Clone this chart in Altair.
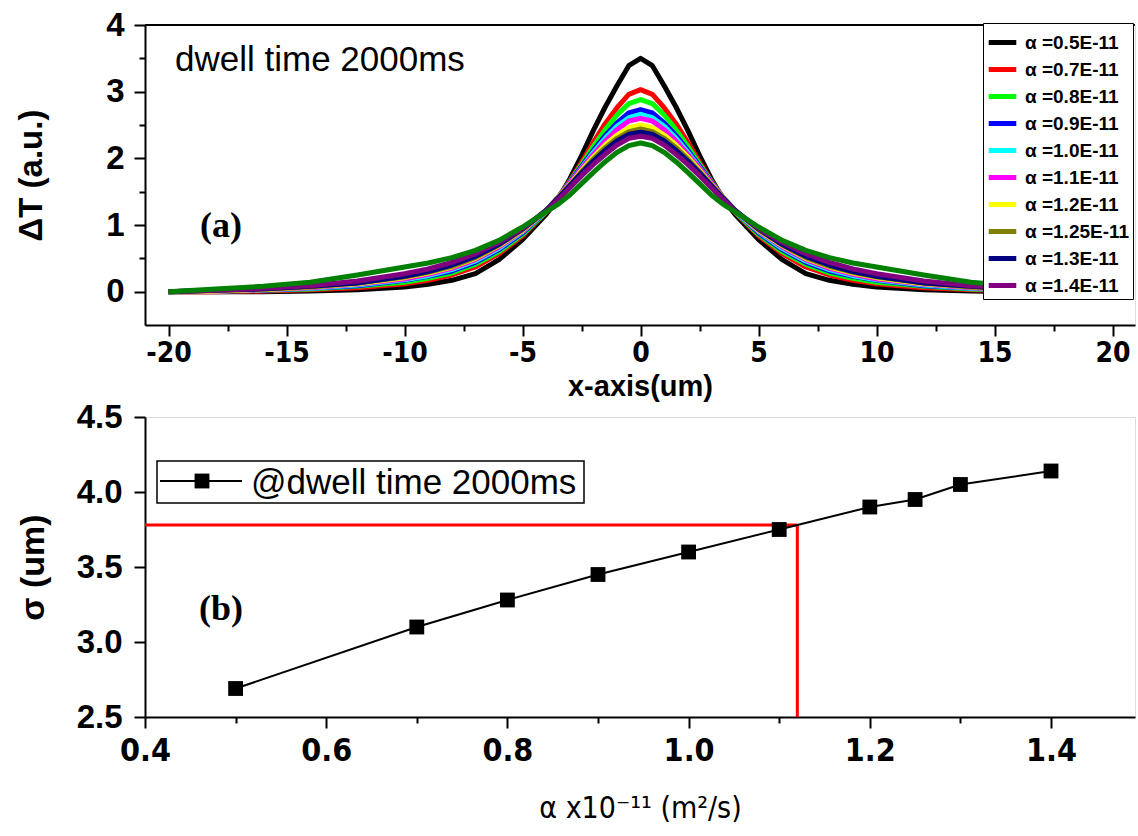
import altair as alt
import pandas as pd

# ---------------- panel (a) data ----------------
x_um = [-20, -18, -16, -14, -12, -10, -9, -8, -7, -6, -5, -4, -3.5, -3, -2.5, -2, -1.5, -1, -0.5, 0,
        0.5, 1, 1.5, 2, 2.5, 3, 3.5, 4, 5, 6, 7, 8, 9, 10, 12, 14, 16, 18, 20]

alpha_labels = ["α =0.5E-11", "α =0.7E-11", "α =0.8E-11", "α =0.9E-11", "α =1.0E-11",
                "α =1.1E-11", "α =1.2E-11", "α =1.25E-11", "α =1.3E-11", "α =1.4E-11", "α =1.5E-11"]
line_colors = ["#000000", "#FF0000", "#00FF00", "#0000FF", "#00FFFF",
               "#FF00FF", "#FFFF00", "#808000", "#000080", "#800080", "#008000"]

dT_05 = [0.00, 0.00, 0.00, 0.01, 0.03, 0.07, 0.11, 0.17, 0.27, 0.48, 0.78, 1.16, 1.39, 1.69, 2.04, 2.42, 2.77, 3.09, 3.39, 3.50,
         3.39, 3.09, 2.77, 2.42, 2.04, 1.69, 1.39, 1.16, 0.78, 0.48, 0.27, 0.17, 0.11, 0.07, 0.03, 0.01, 0.00, 0.00, 0.00]
dT_07 = [0.00, 0.00, 0.01, 0.03, 0.06, 0.12, 0.17, 0.25, 0.37, 0.57, 0.84, 1.19, 1.41, 1.66, 1.94, 2.24, 2.52, 2.76, 2.96, 3.03,
         2.96, 2.76, 2.52, 2.24, 1.94, 1.66, 1.41, 1.19, 0.84, 0.57, 0.37, 0.25, 0.17, 0.12, 0.06, 0.03, 0.01, 0.00, 0.00]
dT_08 = [0.00, 0.01, 0.02, 0.04, 0.08, 0.14, 0.20, 0.28, 0.41, 0.60, 0.86, 1.20, 1.41, 1.65, 1.91, 2.18, 2.43, 2.65, 2.82, 2.88,
         2.82, 2.65, 2.43, 2.18, 1.91, 1.65, 1.41, 1.20, 0.86, 0.60, 0.41, 0.28, 0.20, 0.14, 0.08, 0.04, 0.02, 0.01, 0.00]
dT_09 = [0.00, 0.01, 0.02, 0.05, 0.09, 0.17, 0.23, 0.31, 0.44, 0.63, 0.88, 1.21, 1.41, 1.64, 1.88, 2.12, 2.34, 2.53, 2.68, 2.73,
         2.68, 2.53, 2.34, 2.12, 1.88, 1.64, 1.41, 1.21, 0.88, 0.63, 0.44, 0.31, 0.23, 0.17, 0.09, 0.05, 0.02, 0.01, 0.00]
dT_10 = [0.00, 0.01, 0.03, 0.05, 0.10, 0.18, 0.24, 0.33, 0.46, 0.65, 0.90, 1.21, 1.41, 1.63, 1.86, 2.09, 2.30, 2.48, 2.61, 2.66,
         2.61, 2.48, 2.30, 2.09, 1.86, 1.63, 1.41, 1.21, 0.90, 0.65, 0.46, 0.33, 0.24, 0.18, 0.10, 0.05, 0.03, 0.01, 0.00]
dT_11 = [0.00, 0.01, 0.03, 0.06, 0.11, 0.19, 0.26, 0.35, 0.48, 0.67, 0.91, 1.22, 1.41, 1.63, 1.85, 2.06, 2.26, 2.43, 2.56, 2.60,
         2.56, 2.43, 2.26, 2.06, 1.85, 1.63, 1.41, 1.22, 0.91, 0.67, 0.48, 0.35, 0.26, 0.19, 0.11, 0.06, 0.03, 0.01, 0.00]
dT_12 = [0.00, 0.01, 0.03, 0.07, 0.12, 0.21, 0.28, 0.37, 0.50, 0.69, 0.92, 1.22, 1.41, 1.61, 1.82, 2.02, 2.20, 2.35, 2.46, 2.50,
         2.46, 2.35, 2.20, 2.02, 1.82, 1.61, 1.41, 1.22, 0.92, 0.69, 0.50, 0.37, 0.28, 0.21, 0.12, 0.07, 0.03, 0.01, 0.00]
dT_125 = [0.00, 0.02, 0.04, 0.07, 0.13, 0.22, 0.29, 0.38, 0.51, 0.70, 0.93, 1.22, 1.41, 1.60, 1.80, 1.99, 2.16, 2.30, 2.40, 2.44,
          2.40, 2.30, 2.16, 1.99, 1.80, 1.60, 1.41, 1.22, 0.93, 0.70, 0.51, 0.38, 0.29, 0.22, 0.13, 0.07, 0.04, 0.02, 0.00]
dT_13 = [0.00, 0.02, 0.04, 0.08, 0.13, 0.23, 0.30, 0.40, 0.53, 0.71, 0.94, 1.22, 1.40, 1.59, 1.78, 1.96, 2.12, 2.26, 2.36, 2.39,
         2.36, 2.26, 2.12, 1.96, 1.78, 1.59, 1.40, 1.22, 0.94, 0.71, 0.53, 0.40, 0.30, 0.23, 0.13, 0.08, 0.04, 0.02, 0.00]
dT_14 = [0.00, 0.02, 0.05, 0.09, 0.16, 0.27, 0.34, 0.44, 0.57, 0.74, 0.95, 1.21, 1.38, 1.56, 1.74, 1.91, 2.06, 2.20, 2.30, 2.33,
         2.30, 2.20, 2.06, 1.91, 1.74, 1.56, 1.38, 1.21, 0.95, 0.74, 0.57, 0.44, 0.34, 0.27, 0.16, 0.09, 0.05, 0.02, 0.00]
dT_15 = [0.00, 0.04, 0.08, 0.14, 0.25, 0.37, 0.43, 0.51, 0.62, 0.77, 0.97, 1.20, 1.31, 1.45, 1.62, 1.79, 1.95, 2.09, 2.19, 2.23,
         2.19, 2.09, 1.95, 1.79, 1.62, 1.45, 1.31, 1.20, 0.97, 0.77, 0.62, 0.51, 0.43, 0.37, 0.25, 0.14, 0.08, 0.04, 0.00]

dT_series = [dT_05, dT_07, dT_08, dT_09, dT_10, dT_11, dT_12, dT_125, dT_13, dT_14, dT_15]

# ---------------- panel (b) data ----------------
alpha_b = [0.5, 0.7, 0.8, 0.9, 1.0, 1.1, 1.2, 1.25, 1.3, 1.4]
sigma_b = [2.69, 3.10, 3.28, 3.45, 3.60, 3.75, 3.90, 3.95, 4.05, 4.14]
read_alpha = [1.12]
read_sigma = [3.78]

# tick positions / labels
x_ticks_a = [-20, -17.5, -15, -12.5, -10, -7.5, -5, -2.5, 0, 2.5, 5, 7.5, 10, 12.5, 15, 17.5, 20]
y_ticks_a = [0, 0.5, 1, 1.5, 2, 2.5, 3, 3.5, 4]
x_ticks_b = [0.4, 0.5, 0.6, 0.7, 0.8, 0.9, 1.0, 1.1, 1.2, 1.3, 1.4]
y_ticks_b = [2.5, 2.75, 3.0, 3.25, 3.5, 3.75, 4.0, 4.25, 4.5]

note_a = ["dwell time 2000ms"]
tag_a = ["(a)"]
tag_b = ["(b)"]
legend_b = ["@dwell time 2000ms"]

# ---------------- build table ----------------
rows = []
for k, (lab, vals) in enumerate(zip(alpha_labels, dT_series)):
    for xv, v in zip(x_um, vals):
        rows.append({"x": xv, "dT": v, "alpha": lab, "k": k})
df_a = pd.DataFrame(rows)
df_b = pd.DataFrame({"alpha": alpha_b, "sigma": sigma_b})
df_red = pd.DataFrame({"a0": [0.4], "a1": read_alpha, "s0": [2.5], "s1": read_sigma})

SANS = "Liberation Sans"
NARROW = "Liberation Sans Narrow, DejaVu Sans Condensed, Liberation Sans"
W, H = 990, 300


def axis_common(**kw):
    base = dict(domainColor="black", domainWidth=2, tickColor="black", tickWidth=2,
                labelColor="black", titleColor="black", grid=False,
                labelFlush=False, labelOverlap=False)
    base.update(kw)
    return alt.Axis(**base)


# ---------------- panel (a) ----------------
xa = alt.X("x:Q", scale=alt.Scale(domain=[-21, 20.95], nice=False, zero=False),
           axis=axis_common(values=x_ticks_a, title="x-axis(um)",
                            labelExpr="datum.value % 5 === 0 ? '' + datum.value : ''",
                            tickSize={"condition": {"test": "datum.value % 5 === 0", "value": 11}, "value": 6},
                            labelFont=NARROW, labelFontSize=28, labelFontWeight="bold", labelPadding=3,
                            titleFont=SANS, titleFontSize=29, titleFontWeight="bold", titlePadding=5))
ya = alt.Y("dT:Q", scale=alt.Scale(domain=[-0.5, 4], nice=False, zero=False),
           axis=axis_common(values=y_ticks_a, title="ΔT (a.u.)",
                            labelExpr="datum.value % 1 === 0 ? '' + datum.value : ''",
                            tickSize={"condition": {"test": "datum.value % 1 === 0", "value": 11}, "value": 6},
                            labelFont=SANS, labelFontSize=33, labelFontWeight="bold", labelPadding=10,
                            titleFont=SANS, titleFontSize=33, titleFontWeight="bold", titlePadding=57))

lines_a = alt.Chart(df_a).mark_line(strokeWidth=5, strokeJoin="round").encode(
    x=xa, y=ya,
    color=alt.Color("alpha:N", sort=alpha_labels,
                    scale=alt.Scale(domain=alpha_labels, range=line_colors),
                    legend=alt.Legend(values=alpha_labels[:10], title=None, orient="none",
                                      legendX=838, legendY=-2, padding=3,
                                      strokeColor="black", fillColor="white",
                                      symbolType="stroke", symbolStrokeWidth=5, symbolSize=760,
                                      labelFont=SANS, labelFontSize=19, labelFontWeight="bold",
                                      labelColor="black", labelOffset=6, rowPadding=0, symbolOffset=0)),
    order=alt.Order("k:Q"),
)

top_border = alt.Chart(pd.DataFrame({"t": [0]})).mark_rule(color="black", strokeWidth=2).encode(
    x=alt.value(0), x2=alt.value(W), y=alt.value(0))

txt_a = alt.Chart(pd.DataFrame({"t": note_a})).mark_text(
    font=SANS, fontSize=35, align="left", baseline="alphabetic", color="black").encode(
    text="t:N", x=alt.value(30), y=alt.value(46))

tagA = alt.Chart(pd.DataFrame({"t": tag_a})).mark_text(
    font="Liberation Serif", fontSize=36, fontWeight="bold", align="left", baseline="alphabetic",
    color="black").encode(text="t:N", x=alt.value(55), y=alt.value(212))

top = alt.layer(lines_a, top_border, txt_a, tagA).properties(width=W, height=H)

# ---------------- panel (b) ----------------
xb_scale = alt.Scale(domain=[0.4, 1.4927], nice=False, zero=False)
yb_scale = alt.Scale(domain=[2.5, 4.5], nice=False, zero=False)
xb = alt.X("alpha:Q", scale=xb_scale,
           axis=axis_common(values=x_ticks_b, title="α x10⁻¹¹ (m²/s)",
                            labelExpr="round(datum.value * 10) % 2 === 0 ? format(datum.value, '.1f') : ''",
                            tickSize={"condition": {"test": "round(datum.value * 10) % 2 === 0", "value": 11}, "value": 6},
                            labelFont=NARROW, labelFontSize=32, labelFontWeight="bold", labelPadding=7,
                            titleFont=NARROW, titleFontSize=30, titleFontWeight="normal", titlePadding=27))
yb = alt.Y("sigma:Q", scale=yb_scale,
           axis=axis_common(values=y_ticks_b, title="σ (um)",
                            labelExpr="round(datum.value * 4) % 2 === 0 ? format(datum.value, '.1f') : ''",
                            tickSize={"condition": {"test": "round(datum.value * 4) % 2 === 0", "value": 11}, "value": 6},
                            labelFont=SANS, labelFontSize=33, labelFontWeight="bold", labelPadding=12,
                            titleFont=SANS, titleFontSize=34, titleFontWeight="bold", titlePadding=26))

line_b = alt.Chart(df_b).mark_line(color="black", strokeWidth=2).encode(x=xb, y=yb)
pts_b = alt.Chart(df_b).mark_point(shape="square", filled=True, size=220, color="black", opacity=1).encode(
    x="alpha:Q", y="sigma:Q")

red_h = alt.Chart(df_red).mark_rule(color="#FF0000", strokeWidth=3).encode(
    x="a0:Q", x2="a1:Q", y="s1:Q")
red_v = alt.Chart(df_red).mark_rule(color="#FF0000", strokeWidth=3).encode(
    x="a1:Q", y="s0:Q", y2="s1:Q")

one = pd.DataFrame({"t": legend_b})
leg_box = alt.Chart(one).mark_rect(fillOpacity=0, stroke="black", strokeWidth=1.5).encode(
    x=alt.value(12), x2=alt.value(439), y=alt.value(44), y2=alt.value(86))
leg_line = alt.Chart(one).mark_rule(color="black", strokeWidth=2).encode(
    x=alt.value(15), x2=alt.value(97), y=alt.value(64))
leg_sq = alt.Chart(one).mark_point(shape="square", filled=True, size=220, color="black", opacity=1).encode(
    x=alt.value(57), y=alt.value(64))
leg_txt = alt.Chart(one).mark_text(font=SANS, fontSize=35, align="left", baseline="middle",
                                   color="black").encode(text="t:N", x=alt.value(106), y=alt.value(66))

tagB = alt.Chart(pd.DataFrame({"t": tag_b})).mark_text(
    font="Liberation Serif", fontSize=36, fontWeight="bold", align="left", baseline="alphabetic",
    color="black").encode(text="t:N", x=alt.value(54), y=alt.value(203))

bottom = alt.layer(red_h, red_v, line_b, pts_b, leg_box, leg_line, leg_sq, leg_txt, tagB).properties(
    width=W, height=H)

chart = alt.vconcat(top, bottom, spacing=92, bounds="flush").properties(
    padding={"left": 15, "top": 8, "right": 0, "bottom": 0}
).configure_view(stroke=None).configure(background="white")

chart.save("out.html", embed_options={"renderer": "svg", "actions": False})
